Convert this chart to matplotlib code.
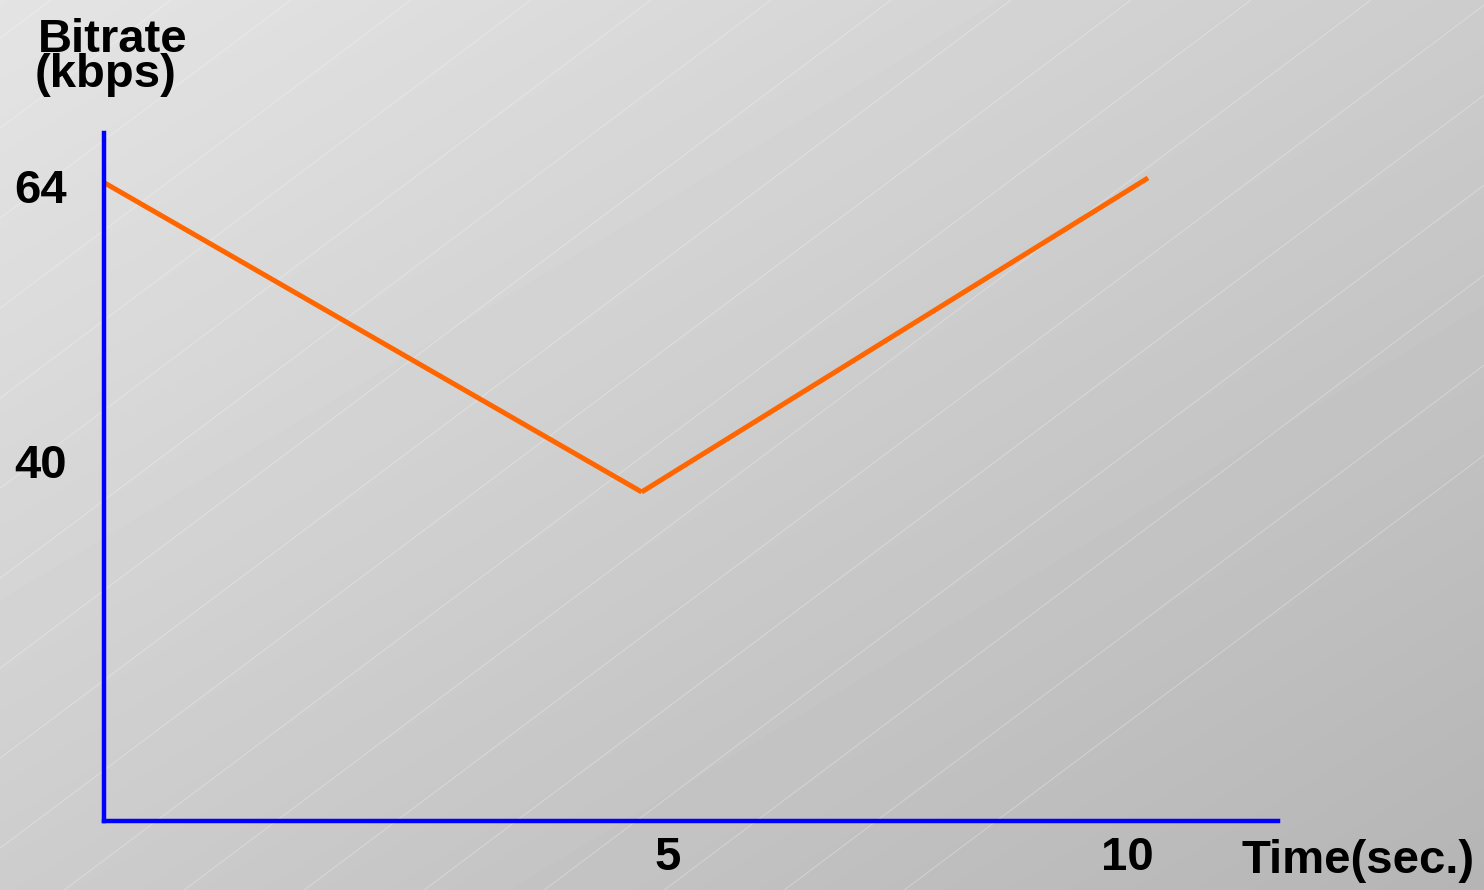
"""Bitrate over time, drawn as a simple slide-style line chart."""

import matplotlib

matplotlib.use("Agg")
import matplotlib.pyplot as plt
import numpy as np

# Series: bitrate (kbps) sampled at three instants (seconds)
TIMES = [0.0, 5.15, 10.0]
BITRATES = [64.3, 37.3, 64.7]

Y_TICKS = [64, 40]
Y_TICK_LABELS = ["64", "40"]
X_TICKS = [5.4, 9.8]
X_TICK_LABELS = ["5", "10"]

WIDTH, HEIGHT = 1484, 890
DPI = 100
FONT = "Liberation Sans"
FONT_SIZE = 34

fig = plt.figure(figsize=(WIDTH / DPI, HEIGHT / DPI), dpi=DPI)

# Background: diagonal grey gradient with faint light hairlines
bg = fig.add_axes([0, 0, 1, 1])
bg.set_xlim(0, WIDTH)
bg.set_ylim(HEIGHT, 0)
bg.axis("off")
yy, xx = np.mgrid[0:HEIGHT, 0:WIDTH]
t = 0.5 * xx / WIDTH + 0.5 * yy / HEIGHT
light, dark = 0.895, 0.708
shade = light + (dark - light) * t
bg.imshow(shade, cmap="gray", vmin=0, vmax=1, extent=(0, WIDTH, HEIGHT, 0),
          aspect="auto", interpolation="bilinear")
slope = 0.75
for xc in np.arange(-1440, WIDTH + 240, 120) + 11:
    xs = np.array([xc - 1400, xc + 1400])
    ys = 300 - slope * (xs - xc)
    bg.plot(xs, ys, color="white", alpha=0.3, linewidth=0.7)

# Main chart area
ax = fig.add_axes([104 / WIDTH, (HEIGHT - 821) / HEIGHT,
                   (1278 - 104) / WIDTH, (821 - 133) / HEIGHT])
ax.patch.set_alpha(0)
ax.set_xlim(0, (1278 - 104) / 104.4)
ax.set_ylim(64 - (821 - 186) / 11.46, 64 + (186 - 133) / 11.46)

for side in ("top", "right"):
    ax.spines[side].set_visible(False)
for side in ("left", "bottom"):
    ax.spines[side].set_color("#0000ff")
    ax.spines[side].set_linewidth(3.2)
    ax.spines[side].set_capstyle("projecting")

# two separate strokes meeting at the dip
ax.plot(TIMES[:2], BITRATES[:2], color="#ff6600", linewidth=3.6,
        solid_capstyle="butt", clip_on=False)
ax.plot(TIMES[1:], BITRATES[1:], color="#ff6600", linewidth=3.6,
        solid_capstyle="butt", clip_on=False)

ax.set_yticks(Y_TICKS, Y_TICK_LABELS)
ax.set_xticks(X_TICKS, X_TICK_LABELS)
ax.tick_params(axis="both", length=0)
ax.tick_params(axis="y", pad=27)
ax.tick_params(axis="x", pad=11)
for label in ax.get_xticklabels() + ax.get_yticklabels():
    label.set_fontfamily(FONT)
    label.set_fontweight("bold")
    label.set_fontsize(FONT_SIZE)
    label.set_color("black")

text_style = dict(fontfamily=FONT, fontweight="bold", fontsize=FONT_SIZE,
                  color="black", va="baseline", ha="left")
fig.text(38 / WIDTH, 1 - 52 / HEIGHT, "Bitrate", **text_style)
fig.text(35 / WIDTH, 1 - 87 / HEIGHT, "(kbps)", **text_style)
fig.text(1242 / WIDTH, 1 - 873 / HEIGHT, "Time(sec.)", **text_style)

fig.savefig("out.png", dpi=DPI)
